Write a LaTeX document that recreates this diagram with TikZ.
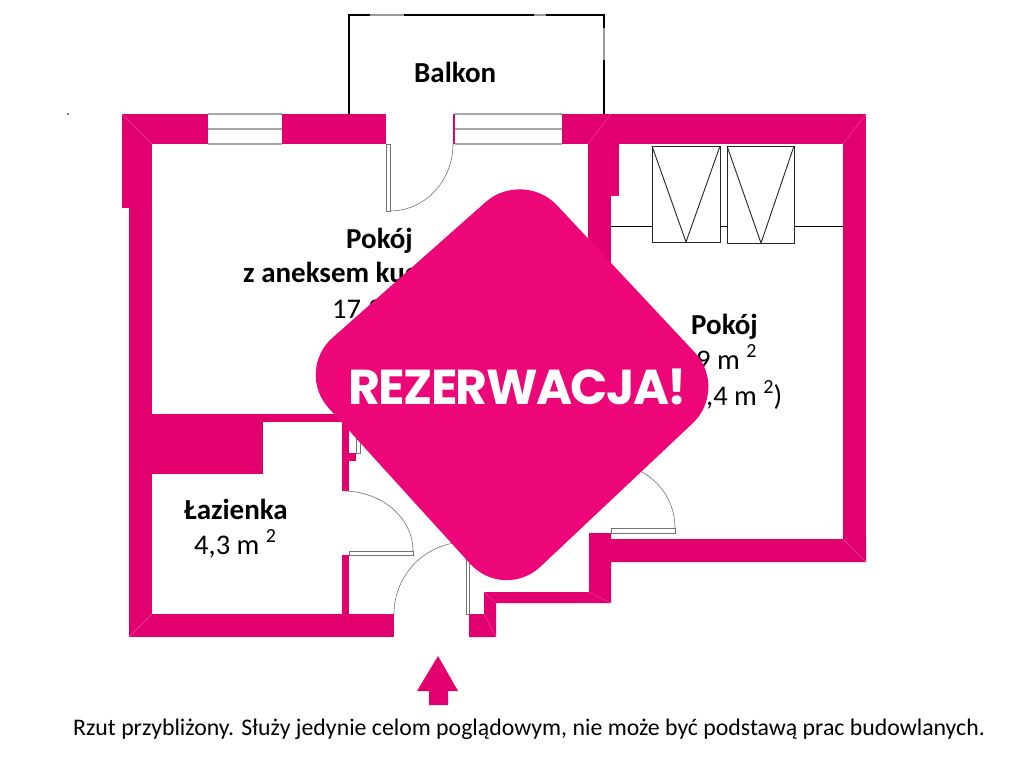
\documentclass[tikz,border=0pt]{standalone}
\usepackage{fontspec}
\setmainfont{Carlito}
\newfontfamily\badgefont[LetterSpace=-3.3]{Poppins}
\usetikzlibrary{calc}
\definecolor{wallpink}{HTML}{E2006F}
\definecolor{badgepink}{HTML}{EC0677}
\definecolor{mitrepink}{HTML}{F2479C}
\newcommand{\sqm}{~\raisebox{12pt}{\fontsize{20}{20}\selectfont 2}}

\begin{document}
\begin{tikzpicture}[x=1pt, y=-1pt]
        \tikzstyle{wall}=[fill=wallpink]
        \tikzstyle{mitre}=[draw=mitrepink,line width=0.4pt]
        \tikzstyle{pane}=[draw=black!35,line width=1.2pt]
        \tikzstyle{balcony}=[draw=black,line width=2.6pt]
        \tikzstyle{balconygap}=[draw=black!40,line width=2.6pt]
        \tikzstyle{door}=[draw=black!55,line width=0.6pt]
        \tikzstyle{closet}=[draw=black!85,line width=0.9pt]
        \tikzstyle{roomname}=[anchor=base west,inner sep=0pt,font=\fontsize{29}{30}\selectfont\bfseries]
        \tikzstyle{roomarea}=[anchor=base west,inner sep=0pt,font=\fontsize{28.5}{30}\selectfont]

        \useasboundingbox (0,0) rectangle (1024,768);
        \fill[white] (0,0) rectangle (1024,768);

        % balcony
        \draw[balcony] (349,114) -- (349,15) -- (604,15) -- (604,114);
        \draw[balconygap] (370,15) -- (404,15);
        \draw[balconygap] (534,15) -- (546,15);
        \draw[balconygap] (604,28) -- (604,60);

        % walls
        \path[wall] (122,114) rectangle (208,144);
        \path[wall] (282,114) rectangle (386,144);
        \path[wall] (562,114) rectangle (866,144);
        \path[wall] (122,114) rectangle (152,208);
        \path[wall] (129,208) rectangle (152,637);
        \path[wall] (843,114) rectangle (866,562);
        \path[wall] (588,144) rectangle (619,196);
        \path[wall] (588,196) rectangle (611,300);
        \path[wall] (152,414) rectangle (350,422);
        \path[wall] (152,422) rectangle (263,474);
        \path[wall] (342,422) rectangle (349,491);
        \path[wall] (349,453) rectangle (356,461);
        \path[wall] (342,555) rectangle (349,614);
        \path[wall] (129,614) rectangle (394,637);
        \path[wall] (866,539) -- (866,562) -- (611,562) -- (611,603) -- (496,603) -- (496,637)
            -- (469,637) -- (469,614) -- (484,614) -- (484,592) -- (589,592) -- (589,533)
            -- (611,533) -- (611,539) -- cycle;

        % corner seams
        \draw[mitre] (122,114) -- (152,144);
        \draw[mitre] (866,114) -- (843,144);
        \draw[mitre] (866,562) -- (843,539);
        \draw[mitre] (129,637) -- (152,614);
        \draw[mitre] (611,114) -- (588,144);
        \draw[mitre] (589,592) -- (611,603);
        \draw[mitre] (484,592) -- (496,603);
        \draw[mitre] (484,614) -- (496,637);

        % windows
        \foreach \wy in {114,129,144} {
            \draw[pane] (208,\wy) -- (282,\wy);
            \draw[pane] (455,\wy) -- (562,\wy);
        }
        \path[wall] (453,114) rectangle (455,144);

        % doors
        \draw[door] (386,144) rectangle (390,211);
        \draw[door] (390,211) arc (90:0:63 and 67);
        \draw[door] (349,551) rectangle (413,555);
        \draw[door] (413,551) arc (0:-90:70 and 60);
        \draw[door] (466,542) rectangle (469,614);
        \draw[door] (394,614) arc (180:270:72);
        \draw[door] (611,528) rectangle (675,533);
        \draw[door] (675,528) arc (0:-90:64);
        \draw[door] (356,430) rectangle (360,453);

        % closets
        \draw[black,line width=1pt] (611,226) -- (652,226);
        \draw[black,line width=1pt] (720,226) -- (727,226);
        \draw[black,line width=1pt] (794,226) -- (843,226);
        \draw[closet] (652,146) rectangle (720,242);
        \draw[closet] (652,146) -- (686,242) -- (720,146);
        \draw[closet] (727,146) rectangle (794,243);
        \draw[closet] (727,146) -- (761,243) -- (794,146);

        % labels
        \node[roomname] (balkon)   at (414,82)  {Balkon};
        \node[roomname] (pokoj)    at (346,248) {Pokój};
        \node[roomname] (aneks)    at (243,282) {z aneksem kuchennym};
        \node[roomarea] (aneksm)   at (332,318) {17,3 m\sqm};
        \node[roomname] (lazienka) at (184,519) {Łazienka};
        \node[roomarea] (lazm)     at (194,554) {4,3 m\sqm};
        \node[roomname] (pokoj2)   at (691,334) {Pokój};
        \node[roomarea] (pokojm)   at (696,369) {9 m\sqm};
        \node[roomarea] (pokojn)   at (706,405) {,4 m\sqm)};

        % entrance arrow
        \fill[wallpink] (438,656) -- (458,691) -- (448,691) -- (448,705) -- (429,705)
            -- (429,691) -- (417,691) -- cycle;

        \fill[black] (68,114) circle (0.8);
        \node[anchor=base west,inner sep=0pt,font=\fontsize{23.8}{26}\selectfont] (rzut) at (73,735)
            {Rzut przybliżony. Służy jedynie celom poglądowym, nie może być podstawą prac budowlanych.};

        % reservation badge
        \fill[badgepink,rounded corners=50pt] (523,169) -- (729,389) -- (504,601) -- (295,371) -- cycle;
        \node[anchor=base west,inner sep=0pt,text=white,font=\fontsize{49}{50}\selectfont\badgefont\bfseries] (rezerwacja) at (348,404) {REZERWACJA!};
    \end{tikzpicture}
\end{document}
